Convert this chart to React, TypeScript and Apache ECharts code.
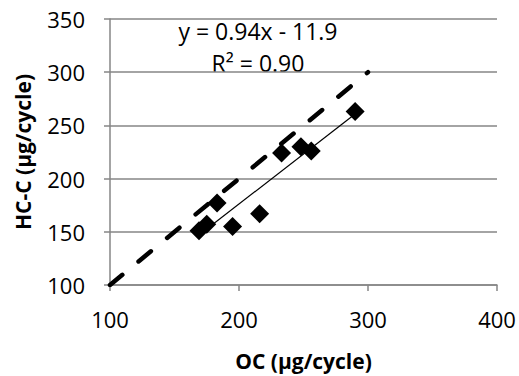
import React, { useEffect, useRef } from "react";
import * as echarts from "echarts";

const ocValues = [169, 175, 183, 195, 216, 233, 248, 256, 290];
const hcValues = [151, 157, 177, 155, 167, 224, 230, 226, 263];
const oneToOne = [
  [100, 100],
  [300, 300],
];
const slope = 0.94;
const intercept = -11.9;
const equationText = "y = 0.94x - 11.9";
const r2Text = "R² = 0.90";
const xTitle = "OC (µg/cycle)";
const yTitle = "HC-C (µg/cycle)";

export default function App() {
  const ref = useRef<HTMLDivElement>(null);
  useEffect(() => {
    if (!ref.current) return;
    const chart = echarts.init(ref.current, null, { renderer: "svg" });
    const points = ocValues.map((x, i) => [x, hcValues[i]]);
    const xmin = Math.min(...ocValues);
    const xmax = Math.max(...ocValues);
    const trend = [
      [xmin, slope * xmin + intercept],
      [xmax, slope * xmax + intercept],
    ];
    const font = "'Open Sans', sans-serif";
    const gray = "#868686";
    chart.setOption({
      animation: false,
      grid: { left: 110, right: 22, top: 19, bottom: 85 },
      xAxis: {
        type: "value",
        min: 100,
        max: 400,
        interval: 100,
        name: xTitle,
        nameLocation: "middle",
        nameGap: 65,
        nameTextStyle: { fontFamily: font, fontSize: 21, fontWeight: "bold", color: "#000" },
        axisLine: { show: true, lineStyle: { color: gray, width: 1.5 } },
        axisTick: { show: true, length: 6, lineStyle: { color: gray, width: 1.5 } },
        axisLabel: { fontFamily: font, fontSize: 22, color: "#000", margin: 23 },
        splitLine: { show: false },
      },
      yAxis: {
        type: "value",
        min: 100,
        max: 350,
        interval: 50,
        name: yTitle,
        nameLocation: "middle",
        nameGap: 77,
        nameTextStyle: { fontFamily: font, fontSize: 21, fontWeight: "bold", color: "#000" },
        axisLine: { show: true, lineStyle: { color: gray, width: 1.5 } },
        axisTick: { show: true, length: 6, lineStyle: { color: gray, width: 1.5 } },
        axisLabel: { fontFamily: font, fontSize: 22, color: "#000", margin: 25 },
        splitLine: { show: true, lineStyle: { color: gray, width: 1.5 } },
      },
      series: [
        {
          type: "line",
          data: oneToOne,
          symbol: "none",
          lineStyle: { color: "#000", width: 4.5, type: [16, 21], cap: "round", opacity: 1 },
          z: 2,
        },
        {
          type: "line",
          data: trend,
          symbol: "none",
          lineStyle: { color: "#000", width: 1.2, opacity: 1 },
          z: 3,
        },
        {
          type: "scatter",
          data: points,
          symbol: "diamond",
          symbolSize: 19,
          itemStyle: { color: "#000", opacity: 1 },
          z: 4,
        },
      ],
      graphic: [
        {
          type: "text",
          x: 258,
          y: 31,
          style: {
            text: equationText,
            fontFamily: font,
            fontSize: 23,
            fill: "#000",
            align: "center",
            verticalAlign: "middle",
          },
        },
        {
          type: "text",
          x: 258,
          y: 63,
          style: {
            text: r2Text,
            fontFamily: font,
            fontSize: 23,
            fill: "#000",
            align: "center",
            verticalAlign: "middle",
          },
        },
      ],
    });
    return () => chart.dispose();
  }, []);
  return (
    <div
      ref={ref}
      style={{ position: "absolute", left: 0, top: 0, width: 519, height: 376 }}
    />
  );
}
